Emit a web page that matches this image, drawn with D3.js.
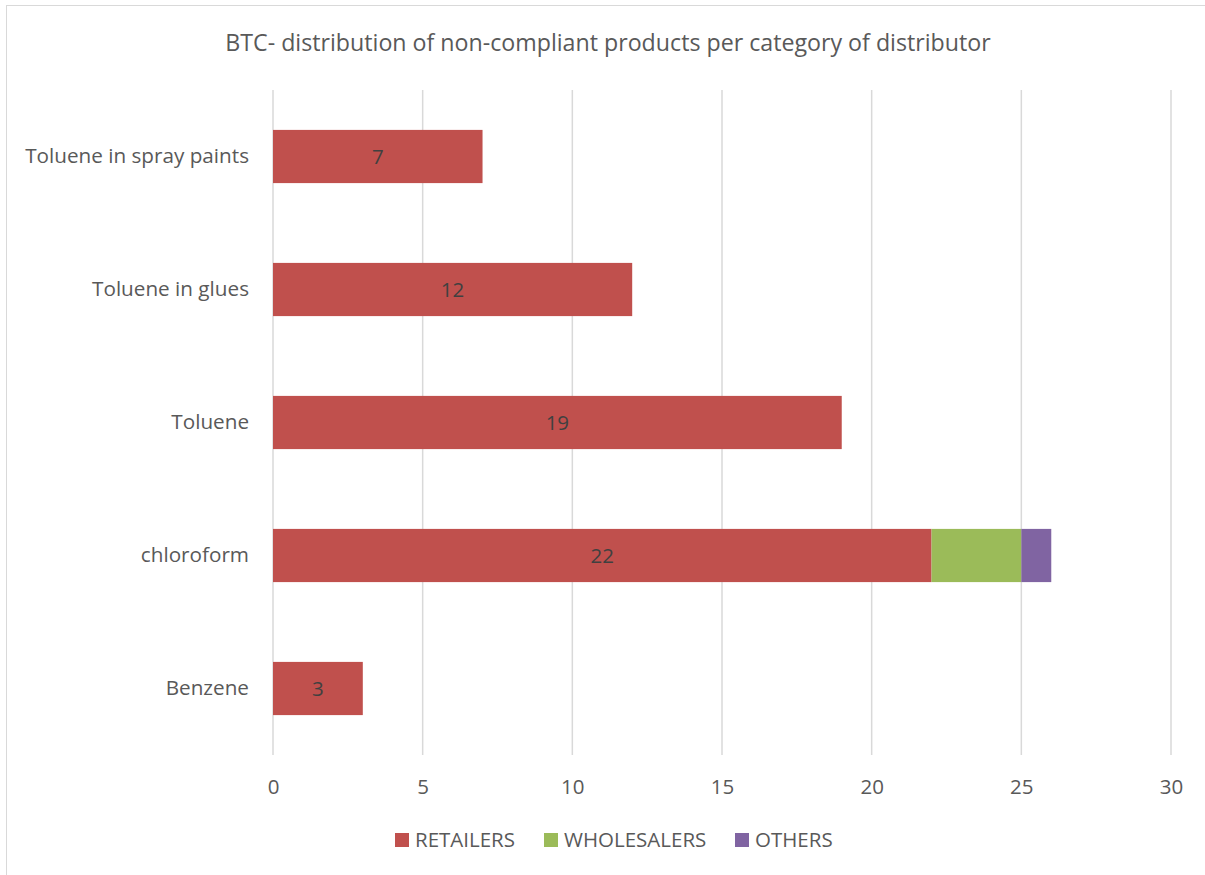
<!DOCTYPE html>
<html>
<head>
<meta charset="utf-8">
<script src="https://cdn.jsdelivr.net/npm/d3@7"></script>
<style>
  html, body { margin: 0; padding: 0; background: #fff; }
  svg { display: block; font-family: "Open Sans", "Liberation Sans", sans-serif; }
</style>
</head>
<body>
<svg id="chart" width="1205" height="875"></svg>
<script>
// Categories, listed top to bottom
const categories = ["Toluene in spray paints", "Toluene in glues", "Toluene", "chloroform", "Benzene"];
const seriesNames = ["RETAILERS", "WHOLESALERS", "OTHERS"];
const retailers   = [7, 12, 19, 22, 3];
const wholesalers = [0, 0, 0, 3, 0];
const others      = [0, 0, 0, 1, 0];
const xTicks = [0, 5, 10, 15, 20, 25, 30];
const colors = ["#C0504D", "#9BBB59", "#8064A2"];

const svg = d3.select("#chart");
const W = 1205, H = 875;
const FONT = "\"Open Sans\", \"Liberation Sans\", sans-serif";

// outer chart frame
svg.append("rect")
  .attr("x", 6.5).attr("y", 5.5)
  .attr("width", W).attr("height", H)
  .attr("fill", "#fff").attr("stroke", "#D9D9D9").attr("stroke-width", 1);

const plot = { left: 273, right: 1171, top: 90, bottom: 755 };

const x = d3.scaleLinear().domain([0, 30]).range([plot.left, plot.right]);
const y = d3.scaleBand().domain(categories).range([plot.top, plot.bottom])
  .paddingInner(0.6).paddingOuter(0.3);

// title
svg.append("text")
  .attr("x", 608).attr("y", 51)
  .attr("text-anchor", "middle")
  .attr("font-size", 23.2).attr("fill", "#595959")
  .text("BTC- distribution of non-compliant products per category of distributor");

// vertical gridlines
svg.append("g").selectAll("line").data(xTicks).join("line")
  .attr("x1", d => x(d)).attr("x2", d => x(d))
  .attr("y1", plot.top).attr("y2", plot.bottom)
  .attr("stroke", "#D9D9D9").attr("stroke-width", 1.5);

// x axis labels
const xAxis = d3.axisBottom(x).tickValues(xTicks).tickSize(0).tickPadding(0);
const gx = svg.append("g").attr("transform", `translate(0,${plot.bottom + 39})`).call(xAxis);
gx.select(".domain").remove();
gx.selectAll("text")
  .attr("font-size", 20.5).attr("fill", "#595959")
  .attr("font-family", FONT)
  .attr("dy", "0");

// y axis labels
const yAxis = d3.axisLeft(y).tickSize(0).tickPadding(24);
const gy = svg.append("g").attr("transform", `translate(${plot.left},0)`).call(yAxis);
gy.select(".domain").remove();
gy.selectAll("text")
  .attr("font-size", 20.7).attr("fill", "#595959")
  .attr("font-family", FONT);

// stacked data
const rows = categories.map((c, i) => ({ cat: c, RETAILERS: retailers[i], WHOLESALERS: wholesalers[i], OTHERS: others[i] }));
const stack = d3.stack().keys(seriesNames)(rows);

const layers = svg.append("g").selectAll("g").data(stack).join("g")
  .attr("fill", (d, i) => colors[i]);

layers.selectAll("rect").data(d => d.filter(s => s[1] - s[0] > 0)).join("rect")
  .attr("x", d => x(d[0]))
  .attr("width", d => x(d[1]) - x(d[0]))
  .attr("y", d => y(d.data.cat))
  .attr("height", y.bandwidth());

// value labels for retailers
svg.append("g").selectAll("text").data(rows).join("text")
  .attr("x", d => x(d.RETAILERS / 2))
  .attr("y", d => y(d.cat) + y.bandwidth() / 2)
  .attr("dy", "0.35em")
  .attr("text-anchor", "middle")
  .attr("font-size", 20.5).attr("fill", "#404040")
  .text(d => d.RETAILERS);

// legend
const legendX = [395, 544, 735];
const lg = svg.append("g").selectAll("g").data(seriesNames).join("g")
  .attr("transform", (d, i) => `translate(${legendX[i]},833)`);
lg.append("rect").attr("width", 14).attr("height", 14).attr("fill", (d, i) => colors[i]);
lg.append("text")
  .attr("x", 20).attr("y", 7).attr("dy", "0.36em")
  .attr("font-size", 20.5).attr("fill", "#595959")
  .text(d => d);
</script>
</body>
</html>
